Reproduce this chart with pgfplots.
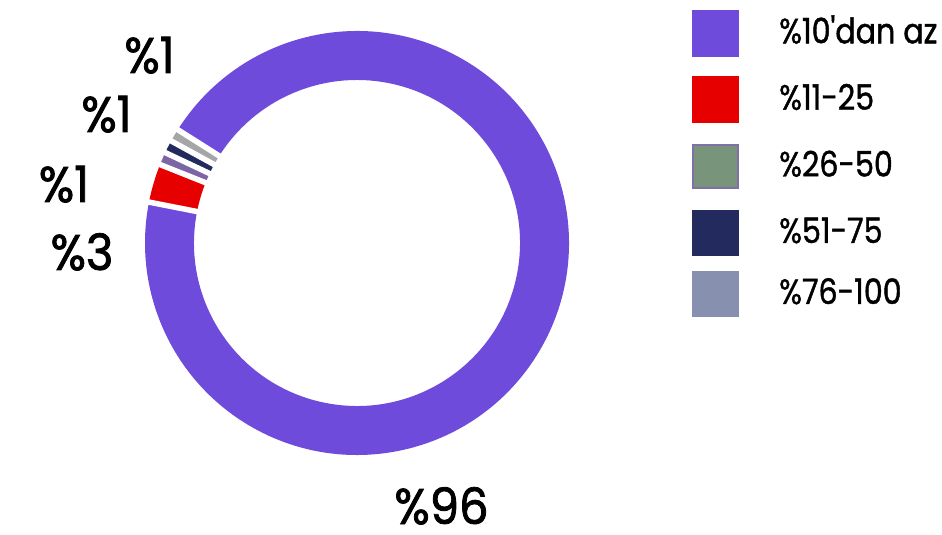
\documentclass[border=0pt]{standalone}
\usepackage{pgfplots}
\pgfplotsset{compat=1.18}
\usepackage{pgfplotstable}
\usepackage{fontspec}
\setmainfont{Poppins}
\newfontfamily\labelfont{Poppins}[FakeStretch=0.93, FakeBold=1.6]
\newfontfamily\legendfont{Poppins}[FakeStretch=0.86, FakeBold=1.2, Ligatures=TeXOff]

\definecolor{ringpurple}{HTML}{6F4BDC}
\definecolor{ringred}{HTML}{E60000}
\definecolor{ringmauve}{HTML}{7D64A5}
\definecolor{ringnavy}{HTML}{232B5E}
\definecolor{ringgray}{HTML}{A6A6A6}
\definecolor{keygreen}{HTML}{78957B}
\definecolor{keyedge}{HTML}{8070A8}
\definecolor{keyslate}{HTML}{8890B0}

% shares of the five groups, in clockwise order
\pgfplotstableread{
share
96
3
1
1
1
}\ringdata

% ring geometry (axis units = bp)
\def\cx{357}\def\cy{292}
\def\Ro{212}\def\Ri{163}
\def\startang{147.7}

\def\total{0}
\newcommand\addtotal[1]{%
  \pgfplotstablegetelem{#1}{share}\of\ringdata
  \pgfmathsetmacro\total{\total+\pgfplotsretval}}

\def\cum{0}
\newcommand\ringgeom[1]{%
  \pgfplotstablegetelem{#1}{share}\of\ringdata
  \pgfmathsetmacro\degper{360/\total}%
  \pgfmathsetmacro\angA{\startang-\cum*\degper}%
  \pgfmathsetmacro\cum{\cum+\pgfplotsretval}%
  \pgfmathsetmacro\angB{\startang-\cum*\degper}%
  \expandafter\xdef\csname angA#1\endcsname{\angA}%
  \expandafter\xdef\csname angB#1\endcsname{\angB}%
  \pgfmathsetmacro\tmpv{\cx+\Ro*cos(\angA)}\expandafter\xdef\csname oxA#1\endcsname{\tmpv}%
  \pgfmathsetmacro\tmpv{\cy+\Ro*sin(\angA)}\expandafter\xdef\csname oyA#1\endcsname{\tmpv}%
  \pgfmathsetmacro\tmpv{\cx+\Ri*cos(\angB)}\expandafter\xdef\csname ixB#1\endcsname{\tmpv}%
  \pgfmathsetmacro\tmpv{\cy+\Ri*sin(\angB)}\expandafter\xdef\csname iyB#1\endcsname{\tmpv}%
  % separator line at the start of the slice
  \pgfmathsetmacro\tmpv{\cx+(\Ri-4)*cos(\angA)}\expandafter\xdef\csname gxI#1\endcsname{\tmpv}%
  \pgfmathsetmacro\tmpv{\cy+(\Ri-4)*sin(\angA)}\expandafter\xdef\csname gyI#1\endcsname{\tmpv}%
  \pgfmathsetmacro\tmpv{\cx+(\Ro+4)*cos(\angA)}\expandafter\xdef\csname gxO#1\endcsname{\tmpv}%
  \pgfmathsetmacro\tmpv{\cy+(\Ro+4)*sin(\angA)}\expandafter\xdef\csname gyO#1\endcsname{\tmpv}%
}

\newcommand\ringslice[2]{%
  \fill[#2] (axis cs:\csname oxA#1\endcsname,\csname oyA#1\endcsname)
    arc[start angle=\csname angA#1\endcsname, end angle=\csname angB#1\endcsname, radius=\Ro bp]
    -- (axis cs:\csname ixB#1\endcsname,\csname iyB#1\endcsname)
    arc[start angle=\csname angB#1\endcsname, end angle=\csname angA#1\endcsname, radius=\Ri bp]
    -- cycle;}
\newcommand\ringgap[1]{%
  \draw[white, line width=5.5bp] (axis cs:\csname gxI#1\endcsname,\csname gyI#1\endcsname)
    -- (axis cs:\csname gxO#1\endcsname,\csname gyO#1\endcsname);}

\begin{document}
\begin{tikzpicture}
\addtotal{0}\addtotal{1}\addtotal{2}\addtotal{3}\addtotal{4}
\ringgeom{0}\ringgeom{1}\ringgeom{2}\ringgeom{3}\ringgeom{4}
\begin{axis}[name=ax, scale only axis, width=942bp, height=535bp,
  xmin=0, xmax=942, ymin=0, ymax=535, hide axis, clip=false]
  \ringslice{0}{ringpurple}
  \ringslice{1}{ringred}
  \ringslice{2}{ringmauve}
  \ringslice{3}{ringnavy}
  \ringslice{4}{ringgray}
  \ringgap{0}\ringgap{1}\ringgap{2}\ringgap{3}\ringgap{4}

  % value labels
  \begin{scope}[every node/.style={anchor=base, inner sep=0pt, font=\labelfont\fontsize{50bp}{56bp}\selectfont}]
    \node at (axis cs:149.5,462) {\%1};
    \node at (axis cs:106.5,403) {\%1};
    \node at (axis cs:64,333) {\%1};
    \node at (axis cs:82,265) {\%3};
    \node at (axis cs:441.5,11) {\%96};
  \end{scope}

  % legend
  \fill[ringpurple] (axis cs:692,525) rectangle (axis cs:739,478.3);
  \fill[ringred] (axis cs:692,459) rectangle (axis cs:739,411.7);
  \filldraw[fill=keygreen, draw=keyedge, line width=2bp] (axis cs:693,390) rectangle (axis cs:738,347);
  \fill[ringnavy] (axis cs:692,325) rectangle (axis cs:739,279);
  \fill[keyslate] (axis cs:692,264.3) rectangle (axis cs:739,217.7);
  \begin{scope}[every node/.style={anchor=base west, inner sep=0pt, font=\legendfont\fontsize{35bp}{40bp}\selectfont}]
    \node at (axis cs:779,491.7) {\%10'dan az};
    \node at (axis cs:779,425.3) {\%11-25};
    \node at (axis cs:779,358.5) {\%26-50};
    \node at (axis cs:779,292) {\%51-75};
    \node at (axis cs:779,231) {\%76-100};
  \end{scope}
\end{axis}
\pgfresetboundingbox
\path (ax.south west) rectangle (ax.north east);
\end{tikzpicture}
\end{document}
